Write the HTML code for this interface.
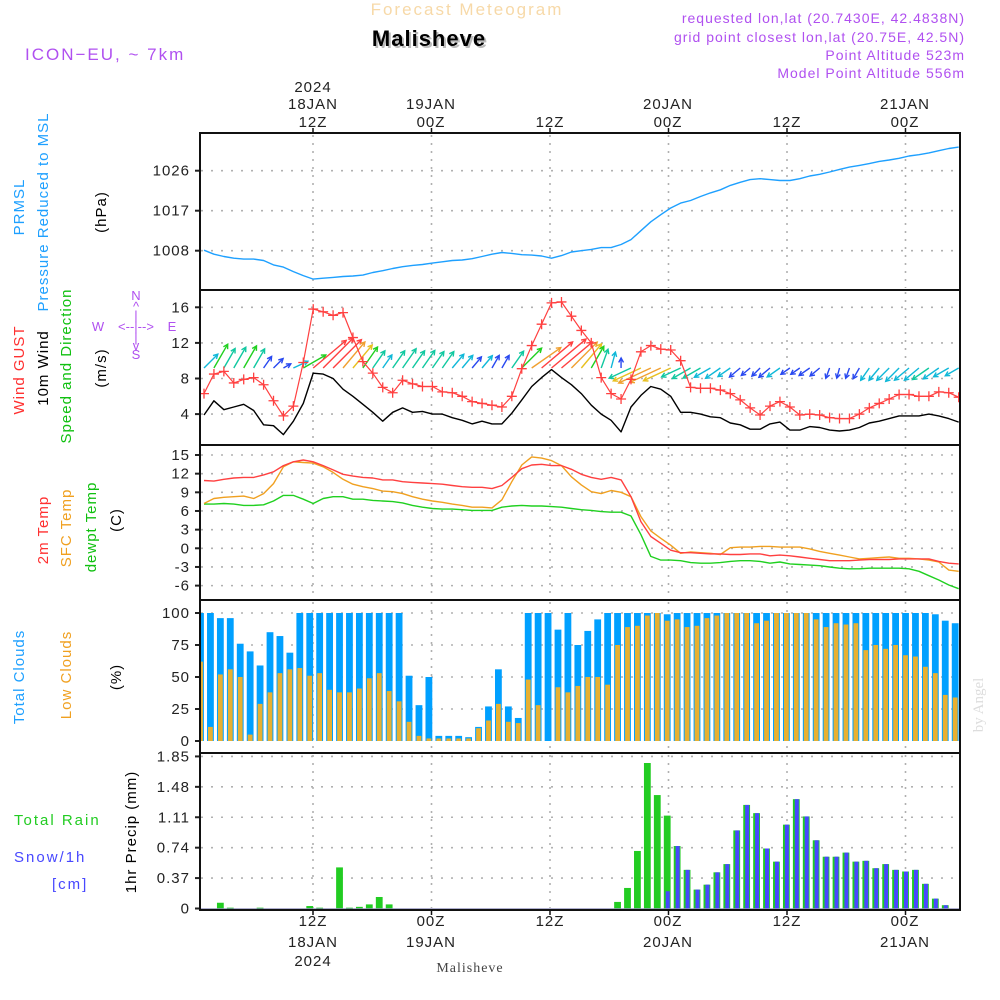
<!DOCTYPE html>
<html><head><meta charset="utf-8"><title>Meteogram Malisheve</title>
<style>
html,body{margin:0;padding:0;background:#fff;}
svg{display:block;font-family:"Liberation Sans",sans-serif;}
.t{font-size:15px;letter-spacing:1px;}
</style></head>
<body>
<svg id="chart" width="1000" height="1000" viewBox="0 0 1000 1000" xmlns="http://www.w3.org/2000/svg">
<rect x="0" y="0" width="1000" height="1000" fill="#fff"/>
<text x="467" y="15" text-anchor="middle" fill="#f7d9a8" font-size="17" letter-spacing="2">Forecast Meteogram</text>
<text x="431" y="48" text-anchor="middle" fill="#bbb" font-size="22" font-weight="bold" letter-spacing="1">Malisheve</text>
<text x="429" y="46" text-anchor="middle" fill="#000" font-size="22" font-weight="bold" letter-spacing="1">Malisheve</text>
<text x="25" y="60" fill="#b050f0" font-size="17" letter-spacing="2">ICON−EU, ~ 7km</text>
<g fill="#b050f0" font-size="14" letter-spacing="1" text-anchor="end">
<text x="965" y="23">requested lon,lat (20.7430E, 42.4838N)</text>
<text x="965" y="42">grid point closest lon,lat (20.75E, 42.5N)</text>
<text x="965" y="60">Point Altitude 523m</text>
<text x="965" y="78">Model Point Altitude 556m</text>
</g>
<g class="t" fill="#222" text-anchor="middle">
<text x="313" y="92">2024</text><text x="313" y="109">18JAN</text><text x="313" y="127">12Z</text>
<text x="431" y="109">19JAN</text><text x="431" y="127">00Z</text>
<text x="550" y="127">12Z</text>
<text x="668" y="109">20JAN</text><text x="668" y="127">00Z</text>
<text x="787" y="127">12Z</text>
<text x="905" y="109">21JAN</text><text x="905" y="127">00Z</text>
</g>
<g class="t" fill="#222" text-anchor="middle">
<text x="313" y="926">12Z</text><text x="313" y="947">18JAN</text><text x="313" y="966">2024</text>
<text x="431" y="926">00Z</text><text x="431" y="947">19JAN</text>
<text x="550" y="926">12Z</text>
<text x="668" y="926">00Z</text><text x="668" y="947">20JAN</text>
<text x="787" y="926">12Z</text>
<text x="905" y="926">00Z</text><text x="905" y="947">21JAN</text>
</g>
<text x="470" y="972" text-anchor="middle" font-family="Liberation Serif,serif" font-size="14" fill="#444" letter-spacing="1">Malisheve</text>
<g class="t">
<text transform="translate(24,207) rotate(-90)" text-anchor="middle" fill="#1ea0ff">PRMSL</text>
<text transform="translate(48,212) rotate(-90)" text-anchor="middle" fill="#1ea0ff">Pressure Reduced to MSL</text>
<text transform="translate(106,212) rotate(-90)" text-anchor="middle" fill="#000">(hPa)</text>
<text transform="translate(24,370) rotate(-90)" text-anchor="middle" fill="#ff3030">Wind GUST</text>
<text transform="translate(48,368) rotate(-90)" text-anchor="middle" fill="#000">10m Wind</text>
<text transform="translate(71,366) rotate(-90)" text-anchor="middle" fill="#10c010">Speed and Direction</text>
<text transform="translate(106,368) rotate(-90)" text-anchor="middle" fill="#000">(m/s)</text>
<text transform="translate(48,530) rotate(-90)" text-anchor="middle" fill="#ff3030">2m Temp</text>
<text transform="translate(71,528) rotate(-90)" text-anchor="middle" fill="#f0a020">SFC Temp</text>
<text transform="translate(96,527) rotate(-90)" text-anchor="middle" fill="#10c010">dewpt Temp</text>
<text transform="translate(121,520) rotate(-90)" text-anchor="middle" fill="#000">(C)</text>
<text transform="translate(24,677) rotate(-90)" text-anchor="middle" fill="#1ea0ff">Total Clouds</text>
<text transform="translate(71,675) rotate(-90)" text-anchor="middle" fill="#f0a020">Low Clouds</text>
<text transform="translate(121,677) rotate(-90)" text-anchor="middle" fill="#000">(%)</text>
<text transform="translate(136,832) rotate(-90)" text-anchor="middle" fill="#000">1hr Precip (mm)</text>
<text x="14" y="825" fill="#22cc22" letter-spacing="2">Total  Rain</text>
<text x="14" y="862" fill="#4848ff" letter-spacing="2">Snow/1h</text>
<text x="52" y="889" fill="#4848ff" letter-spacing="2">[cm]</text>
</g>
<g fill="#b050f0" font-size="13">
<text x="136" y="300" text-anchor="middle">N</text>
<text x="136" y="311" text-anchor="middle">^</text>
<text x="136" y="320" text-anchor="middle">|</text>
<text x="98" y="331" text-anchor="middle">W</text>
<text x="136" y="331" text-anchor="middle">&lt;--|--&gt;</text>
<text x="172" y="331" text-anchor="middle">E</text>
<text x="136" y="342" text-anchor="middle">|</text>
<text x="136" y="350" text-anchor="middle">v</text>
<text x="136" y="359" text-anchor="middle">S</text>
</g>
<text transform="translate(983,705) rotate(-90)" text-anchor="middle" font-family="Liberation Serif,serif" font-size="15" fill="#ddd">by Angel</text>
<g id="plot"></g>
</svg>
<script>
// ---- data (hourly, index 0 = first hour) ----
const timeTicks = [313, 431.5, 550, 668.5, 787, 905.5];
const pressure = [1008.1,1007.2,1006.7,1006.3,1006.1,1006.1,1005.8,1004.8,1004.3,1003.3,1002.4,1001.6,1001.8,1002.0,1002.2,1002.3,1002.5,1003.1,1003.5,1004.0,1004.4,1004.7,1004.9,1005.2,1005.5,1005.8,1005.9,1006.2,1006.7,1007.2,1007.6,1007.4,1007.1,1007.0,1006.8,1006.3,1006.9,1007.7,1008.0,1008.3,1008.7,1008.7,1009.4,1010.5,1012.5,1014.5,1016.1,1017.6,1018.7,1019.3,1020.2,1021.0,1021.7,1022.7,1023.4,1024.0,1024.2,1024.0,1023.8,1023.8,1024.2,1024.8,1025.2,1025.7,1026.3,1026.8,1027.2,1027.6,1028.1,1028.4,1028.8,1029.3,1029.6,1030.0,1030.5,1031.0,1031.3];
const pressureTicks = [1026, 1017, 1008];
const gust = [6.3,8.5,8.8,7.5,7.9,8.1,7.3,5.5,3.8,4.9,9.8,15.8,15.5,15.1,15.4,12.6,9.9,8.6,7.0,6.4,7.8,7.4,7.1,7.1,6.5,6.4,6.0,5.4,5.2,5.0,4.8,6.0,9.1,11.7,14.1,16.5,16.6,15.0,13.4,12.0,8.1,6.3,5.7,7.9,11.0,11.7,11.3,11.2,10.0,7.0,6.9,6.9,6.7,6.3,5.6,4.7,3.9,4.9,5.4,4.8,3.9,4.0,3.9,3.6,3.5,3.5,4.0,4.7,5.2,5.7,6.2,6.2,6.0,6.0,6.5,6.4,5.9];
const wind = [3.9,5.5,4.5,4.8,5.1,4.4,2.8,2.7,1.7,3.2,5.2,8.6,8.5,8.0,6.8,6.0,5.1,4.2,3.2,4.2,4.7,4.2,4.3,4.0,4.0,3.6,3.3,2.9,3.2,2.9,2.9,4.1,5.6,7.1,8.1,9.0,8.1,7.3,6.3,5.0,4.0,3.3,2.0,4.8,6.1,7.1,6.8,6.0,4.2,4.2,4.0,3.7,3.6,3.0,2.8,2.3,2.3,2.9,3.1,2.2,2.2,2.6,2.5,2.2,2.1,2.2,2.5,3.0,3.2,3.5,3.8,3.8,3.8,4.0,3.8,3.5,3.1];
const windDir = [45,30,30,30,30,30,35,45,60,65,60,50,45,45,40,40,35,35,35,35,35,35,35,35,35,40,40,40,40,30,30,35,45,55,50,50,50,45,40,30,20,15,0,245,245,245,245,245,245,240,240,240,235,235,230,230,225,230,235,235,235,235,230,200,195,200,210,215,220,225,225,230,230,235,235,240,240];
const windTicks = [16, 12, 8, 4];
const temp2m = [10.9,10.8,11.1,11.3,11.4,11.4,11.8,12.3,13.3,13.9,14.2,13.9,13.3,12.6,11.9,11.6,11.4,11.3,11.0,11.0,10.7,10.6,10.5,10.4,10.3,10.1,9.9,9.8,9.8,9.6,10.1,11.4,12.8,13.4,13.5,13.3,13.3,12.7,11.9,11.4,11.1,11.4,11.0,8.3,4.3,1.9,0.8,-0.3,-0.7,-0.7,-0.8,-0.9,-0.9,-1.0,-1.0,-0.9,-0.9,-1.2,-1.1,-1.2,-1.4,-1.6,-1.8,-2.0,-2.0,-2.0,-1.9,-1.8,-1.8,-1.8,-1.7,-1.7,-1.7,-1.7,-2.1,-2.4,-2.5];
const tempSfc = [7.2,8.0,8.2,8.3,8.4,8.0,8.8,10.4,13.1,13.9,13.8,13.7,13.1,12.2,11.1,10.3,9.9,9.6,9.2,9.1,8.8,8.3,7.9,7.6,7.4,7.1,6.9,6.6,6.6,6.5,7.8,10.7,13.4,14.7,14.5,14.1,13.3,11.5,10.2,9.1,8.8,9.3,9.0,8.3,5.1,2.8,1.6,0.5,-0.8,-0.6,-0.7,-0.8,-1.0,0.1,0.2,0.2,0.3,0.3,0.2,0.2,0.2,-0.1,-0.5,-0.8,-1.1,-1.4,-1.7,-1.6,-1.5,-1.4,-1.6,-1.6,-1.7,-1.9,-2.2,-3.5,-3.7];
const dewpt = [7.1,7.1,7.2,7.1,6.9,6.9,7.0,7.6,8.5,8.5,7.9,7.2,8.0,8.3,8.3,7.9,7.9,7.7,7.6,7.5,7.3,6.9,6.6,6.4,6.3,6.3,6.2,6.1,6.1,6.1,6.6,6.8,6.9,6.8,6.8,6.7,6.6,6.4,6.2,6.1,5.9,5.8,5.8,5.2,2.2,-1.3,-1.9,-1.9,-2.0,-2.3,-2.4,-2.4,-2.3,-2.1,-2.0,-2.0,-2.1,-2.4,-2.2,-2.5,-2.6,-2.7,-2.8,-3.0,-3.2,-3.3,-3.3,-3.2,-3.2,-3.2,-3.2,-3.3,-3.7,-4.4,-5.1,-5.9,-6.5];
const tempTicks = [15, 12, 9, 6, 3, 0, -3, -6];
const cloudTotal = [100,100,96,96,76,70,59,85,82,69,100,100,100,100,100,100,100,100,100,100,100,51,28,50,4,4,4,3,11,27,56,27,18,100,100,100,87,100,75,86,95,100,100,100,100,100,100,99,100,100,100,100,100,100,100,100,100,100,100,100,100,100,100,100,100,100,100,100,100,100,100,100,100,100,99,94,92];
const cloudLow = [62,11,52,56,50,5,29,38,53,56,57,51,53,40,38,38,41,49,53,39,31,15,4,2,2,2,2,2,10,16,29,15,14,48,28,0,42,38,43,50,50,44,75,89,90,98,100,94,95,89,90,96,98,100,100,100,92,94,100,100,100,100,95,89,92,91,92,71,75,72,75,67,66,58,53,36,34];
const cloudTicks = [100, 75, 50, 25, 0];
const rain = [0,0,0.07,0.01,0,0,0.01,0,0,0,0,0.03,0.01,0,0.5,0.01,0.02,0.05,0.14,0.05,0,0,0,0,0,0,0,0,0,0,0,0,0,0,0,0,0,0,0,0,0,0,0.08,0.25,0.70,1.77,1.38,1.13,0.76,0.47,0.23,0.29,0.44,0.54,0.95,1.26,1.16,0.73,0.57,1.02,1.33,1.12,0.83,0.63,0.63,0.68,0.57,0.58,0.49,0.54,0.47,0.45,0.47,0.30,0.12,0.04,0];
const snow = [0,0,0,0,0,0,0,0,0,0,0,0,0,0,0,0,0,0,0,0,0,0,0,0,0,0,0,0,0,0,0,0,0,0,0,0,0,0,0,0,0,0,0,0,0,0,0,0.21,0.76,0.47,0.23,0.29,0.44,0.54,0.95,1.26,1.16,0.73,0.57,1.02,1.33,1.12,0.83,0.63,0.63,0.68,0.57,0.58,0.49,0.54,0.47,0.45,0.47,0.30,0.12,0.04,0];
const precipTicks = [1.85, 1.48, 1.11, 0.74, 0.37, 0];
const precipTickLabels = ["1.85","1.48","1.11","0.74","0.37","0"];

// ---- scales ----
const NS = "http://www.w3.org/2000/svg";
const DX = 9.93;
function xl(i){ return 204 + DX*i; }
function xb(i){ return 200.5 + DX*i; }
function yP(p){ return 170.7 + (1026-p)*4.444; }
function yW(v){ return 307.3 + (16-v)*8.9; }
function yT(t){ return 455 + (15-t)*6.22; }
function yC(c){ return 741 - c*1.28; }
function yR(r){ return 908.5 - r*82.2; }
const panels = [
  {name:'pressure', top:133, bot:290},
  {name:'wind', top:290, bot:445},
  {name:'temperature', top:445, bot:600},
  {name:'clouds', top:600, bot:753},
  {name:'precip', top:753, bot:910}
];
const plot = document.getElementById('plot');
function mk(tag, attrs, parent){
  const e = document.createElementNS(NS, tag);
  for (const k in attrs) e.setAttribute(k, attrs[k]);
  (parent||plot).appendChild(e);
  return e;
}
function grp(){ return mk('g', {}); }

const defs = mk('defs', {});
panels.forEach(p=>{
  const cp = mk('clipPath', {id:'clip-'+p.name}, defs);
  mk('rect', {x:200, y:p.top, width:760, height:p.bot-p.top}, cp);
});

const gridG = grp();


function hgrid(y){
  const l = mk('line', {x1:201, x2:959, y1:y, y2:y, stroke:'#b0b0b0', 'stroke-width':1.6, 'stroke-dasharray':'2,8'}, gridG);
  
  
}
panels.forEach(p=>{
  timeTicks.forEach(x=>{
    const l = mk('line', {x1:x, x2:x, y1:p.top+2, y2:p.bot-2, stroke:'#b0b0b0', 'stroke-width':1.6, 'stroke-dasharray':'2,6'}, gridG);
    
    
  });
});
pressureTicks.forEach(v=>hgrid(yP(v)));
windTicks.forEach(v=>hgrid(yW(v)));
tempTicks.forEach(v=>hgrid(yT(v)));
cloudTicks.slice(0,4).forEach(v=>hgrid(yC(v)));
precipTicks.slice(0,5).forEach(v=>hgrid(yR(v)));

const tickG = grp();


function ytick(y, label){
  const t = mk('text', {x:190, y:y+5, 'text-anchor':'end', 'font-size':15, fill:'#222', 'letter-spacing':1}, tickG);
  t.textContent = label;
  
  
  mk('line', {x1:195, x2:200, y1:y, y2:y, stroke:'#222', 'stroke-width':2}, tickG);
}
pressureTicks.forEach(v=>ytick(yP(v), String(v)));
windTicks.forEach(v=>ytick(yW(v), String(v)));
tempTicks.forEach(v=>ytick(yT(v), String(v)));
cloudTicks.forEach(v=>ytick(yC(v), String(v)));
precipTicks.forEach((v,k)=>ytick(yR(v), precipTickLabels[k]));

function polyline(arr, yf, color, w, name, clip){
  const pts = arr.map((v,i)=>xl(i).toFixed(1)+','+yf(v).toFixed(1)).join(' ');
  const pl = mk('polyline', {points:pts, fill:'none', stroke:color, 'stroke-width':w, 'stroke-linejoin':'round', 'clip-path':'url(#clip-'+clip+')'});
  
  
  return pl;
}

polyline(pressure, yP, '#1ea0ff', 1.4, 'pressure-line', 'pressure');

const arrowG = mk('g', {'clip-path':'url(#clip-wind)'});


function speedColor(v){
  if (v < 3) return '#2848f0';
  if (v < 4) return '#10b8d8';
  if (v < 5) return '#10c8a0';
  if (v < 5.8) return '#20d020';
  if (v < 6.5) return '#e8c020';
  if (v < 7.5) return '#f0a030';
  return '#ff4040';
}
wind.forEach((v,i)=>{
  const a = windDir[i]*Math.PI/180;
  const len = v*5;
  const x0 = xl(i), y0 = 368;
  const x1 = x0 + Math.sin(a)*len, y1 = y0 - Math.cos(a)*len;
  const c = speedColor(v);
  const g = mk('g', {stroke:c, 'stroke-width':1.4, fill:'none'}, arrowG);
  
  
  mk('line', {x1:x0, y1:y0, x2:x1, y2:y1}, g);
  const hl = 5, ha = 0.5;
  const back = Math.atan2(y0-y1, x0-x1);
  mk('polyline', {points:
    (x1+Math.cos(back+ha)*hl).toFixed(1)+','+(y1+Math.sin(back+ha)*hl).toFixed(1)+' '+
    x1.toFixed(1)+','+y1.toFixed(1)+' '+
    (x1+Math.cos(back-ha)*hl).toFixed(1)+','+(y1+Math.sin(back-ha)*hl).toFixed(1)}, g);
});
polyline(wind, yW, '#000', 1.4, 'wind-speed-line', 'wind');
polyline(gust, yW, '#ff4040', 1.2, 'gust-line', 'wind');
const gustG = mk('g', {stroke:'#ff4040', 'stroke-width':1.3, 'clip-path':'url(#clip-wind)'});


gust.forEach((v,i)=>{
  const x = xl(i), y = yW(v);
  const m = mk('path', {d:'M'+(x-5)+' '+y+'H'+(x+5)+'M'+x+' '+(y-5)+'V'+(y+5)}, gustG);
  
  
});

polyline(dewpt, yT, '#20d020', 1.4, 'dewpoint-line', 'temperature');
polyline(tempSfc, yT, '#f0a020', 1.4, 'sfc-temp-line', 'temperature');
polyline(temp2m, yT, '#ff4040', 1.4, 'temp-2m-line', 'temperature');

const cloudG = mk('g', {'clip-path':'url(#clip-clouds)'});


cloudTotal.forEach((v,i)=>{
  const x = xb(i);
  const r = mk('rect', {x:x-3.4, y:yC(v), width:6.8, height:741-yC(v), fill:'#00a0ff'}, cloudG);
  
  
  const lv = cloudLow[i];
  const r2 = mk('rect', {x:x-2.4, y:yC(lv), width:4.8, height:741-yC(lv), fill:'#e8b030'}, cloudG);
  
  
});

const precG = mk('g', {'clip-path':'url(#clip-precip)'});


rain.forEach((v,i)=>{
  if (v <= 0) return;
  const x = xb(i);
  const r = mk('rect', {x:x-3.4, y:yR(v), width:6.8, height:Math.max(908.5-yR(v),1), fill:'#22cc22'}, precG);
  
  
});
snow.forEach((v,i)=>{
  if (v <= 0) return;
  const x = xb(i);
  const r = mk('rect', {x:x-1.5, y:yR(v), width:4, height:Math.max(908.5-yR(v),1), fill:'#4848ff'}, precG);
  
  
});
const base = mk('line', {x1:200, x2:960, y1:908.5, y2:908.5, stroke:'#6060a0', 'stroke-width':0.6});



panels.forEach(p=>{
  const f = mk('rect', {x:200, y:p.top, width:760, height:p.bot-p.top, fill:'none', stroke:'#111', 'stroke-width':2});
  
  
});
timeTicks.forEach(x=>{
  const t1 = mk('line', {x1:x, x2:x, y1:133, y2:128, stroke:'#111', 'stroke-width':1.5});
  
  
  const t2 = mk('line', {x1:x, x2:x, y1:910, y2:915, stroke:'#111', 'stroke-width':1.5});
  
  
});
</script>
</body></html>
